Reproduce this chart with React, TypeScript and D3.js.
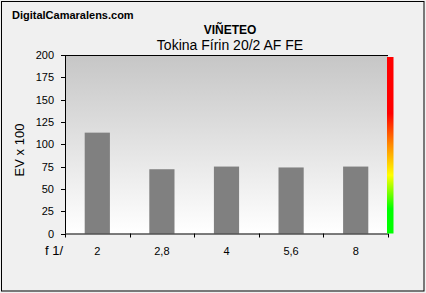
import React from "react";
import * as d3 from "d3";

const categories = ["2", "2,8", "4", "5,6", "8"];
const values = [113, 72, 75, 74, 75];
const yTicks = [0, 25, 50, 75, 100, 125, 150, 175, 200];

const W = 426;
const H = 293;
const left = 65;
const right = 388;
const top = 55;
const bottom = 233.5;

export default function App() {
  const y = d3.scaleLinear().domain([0, 200]).range([bottom, top]);
  const x = d3.scaleBand<string>().domain(categories).range([left, right]).padding(0);
  const bw = x.bandwidth() * 0.39;
  const boundaries = [...categories.map((c) => x(c) as number), right];
  const font = "'Liberation Sans', Arial, sans-serif";
  return (
    <svg width={W} height={H} style={{ position: "absolute", left: 0, top: 0 }} fontFamily={font}>
      <defs>
        <linearGradient id="bg" x1="0" y1="0" x2="0" y2="1">
          <stop offset="0" stopColor="#c6c6c6" />
          <stop offset="1" stopColor="#ffffff" />
        </linearGradient>
        <linearGradient id="cb" x1="0" y1="0" x2="0" y2="1">
          <stop offset="0" stopColor="#ff0000" />
          <stop offset="0.32" stopColor="#ff0000" />
          <stop offset="0.5" stopColor="#ff8c00" />
          <stop offset="0.67" stopColor="#ffff00" />
          <stop offset="0.86" stopColor="#00ff00" />
          <stop offset="1" stopColor="#00ff00" />
        </linearGradient>
      </defs>
      <rect x={0} y={0} width={W} height={H} fill="#f0f0f0" />
      <rect x={1.5} y={1.5} width={422.5} height={289.5} fill="none" stroke="#000" strokeWidth={1} />
      <text x={12} y={19} fontSize={11} fontWeight="bold" fill="#000">DigitalCamaralens.com</text>
      <text x={230} y={34} fontSize={12} fontWeight="bold" textAnchor="middle" fill="#000">VIÑETEO</text>
      <text x={230} y={50} fontSize={14} textAnchor="middle" fill="#000">Tokina Fírin 20/2 AF FE</text>

      <rect x={left} y={top} width={right - left} height={bottom - top} fill="url(#bg)" />
      {categories.map((c, i) => (
        <rect
          key={c}
          x={(x(c) as number) + x.bandwidth() / 2 - bw / 2}
          y={y(values[i])}
          width={bw}
          height={bottom - y(values[i])}
          fill="#808080"
        />
      ))}
      <line x1={left} x2={right} y1={top + 0.5} y2={top + 0.5} stroke="#000" />
      <line x1={left + 0.5} x2={left + 0.5} y1={top} y2={bottom} stroke="#000" />
      <line x1={left} x2={right} y1={bottom + 0.5} y2={bottom + 0.5} stroke="#000" />
      {yTicks.map((t) => (
        <g key={t}>
          <line x1={left - 4} x2={left} y1={Math.round(y(t)) + 0.5} y2={Math.round(y(t)) + 0.5} stroke="#000" />
          <text x={54} y={y(t) + 4} fontSize={11} textAnchor="end" fill="#000">{t}</text>
        </g>
      ))}
      {boundaries.map((b, i) => (
        <line key={i} x1={Math.round(b) + 0.5} x2={Math.round(b) + 0.5} y1={bottom} y2={bottom + 4} stroke="#000" />
      ))}
      {categories.map((c) => (
        <text key={c} x={(x(c) as number) + x.bandwidth() / 2} y={255} fontSize={11} textAnchor="middle" fill="#000">{c}</text>
      ))}
      <text x={45} y={255} fontSize={13} fill="#000">f 1/</text>
      <text transform="translate(24,150) rotate(-90)" fontSize={13} textAnchor="middle" fill="#000">EV x 100</text>
      <rect x={387} y={57} width={6.5} height={bottom - 57} fill="url(#cb)" />
    </svg>
  );
}
